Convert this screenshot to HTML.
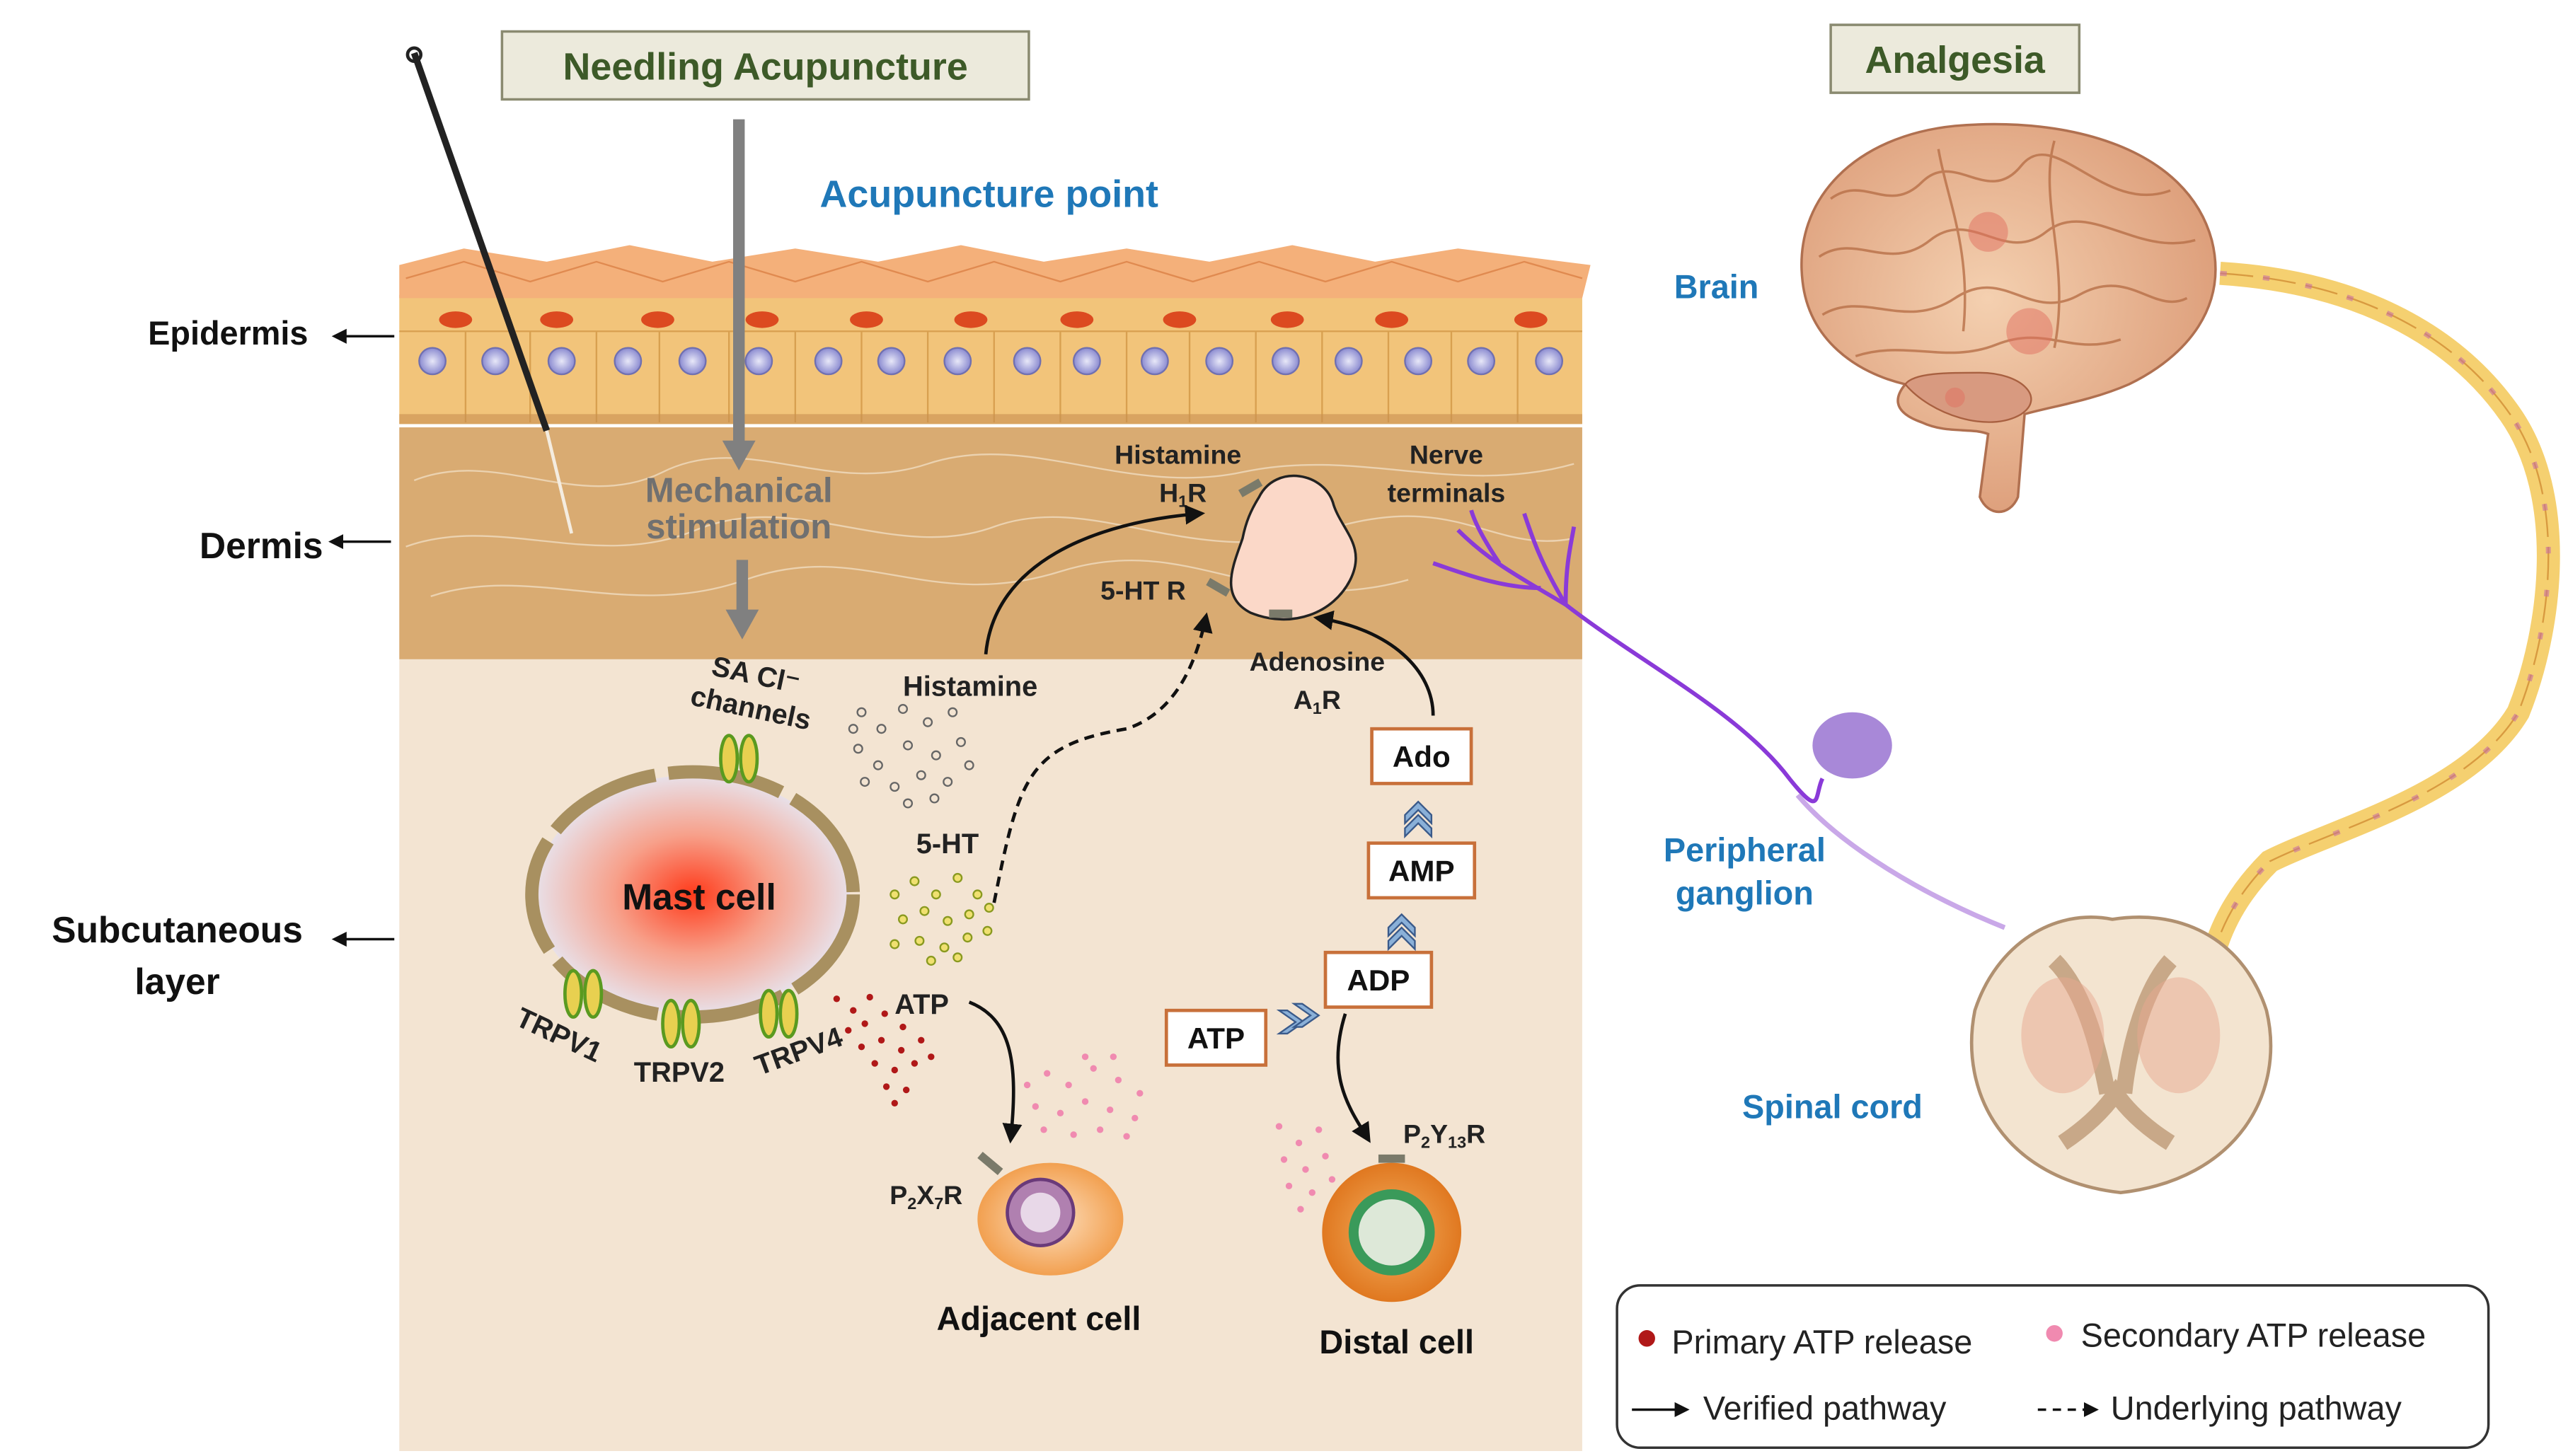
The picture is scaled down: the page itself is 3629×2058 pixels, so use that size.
<!DOCTYPE html>
<html><head><meta charset="utf-8"><style>
html,body{margin:0;padding:0;background:#fff}
svg{display:block}
text{font-family:"Liberation Sans",Arial,sans-serif;font-weight:bold}
</style></head><body>
<svg width="3629" height="2058" viewBox="0 0 1550 879" preserveAspectRatio="none" xmlns="http://www.w3.org/2000/svg">
<defs>
<radialGradient id="mast" cx="50%" cy="50%" r="50%"><stop offset="0" stop-color="#ff3a1a"/><stop offset="0.5" stop-color="#f7a08a"/><stop offset="1" stop-color="#e8e0e8"/></radialGradient>
<radialGradient id="nuc" cx="50%" cy="50%" r="50%"><stop offset="0" stop-color="#e8e8f8"/><stop offset="1" stop-color="#8a8ad0"/></radialGradient>
<radialGradient id="adj" cx="50%" cy="50%" r="50%"><stop offset="0" stop-color="#fde0c0"/><stop offset="1" stop-color="#f2a050"/></radialGradient>
<radialGradient id="dist" cx="50%" cy="50%" r="50%"><stop offset="0" stop-color="#f4b060"/><stop offset="1" stop-color="#e07820"/></radialGradient>
<radialGradient id="brain" cx="45%" cy="45%" r="60%"><stop offset="0" stop-color="#f4d0b0"/><stop offset="1" stop-color="#dc9c78"/></radialGradient>
<marker id="ah" viewBox="0 0 10 10" refX="8" refY="5" markerWidth="6" markerHeight="6" orient="auto"><path d="M0,0L10,5L0,10z" fill="#111"/></marker>
</defs>

<rect x="241" y="398" width="714" height="478" fill="#f3e4d2"/>
<rect x="241" y="258" width="714" height="140" fill="#d9ab72"/>
<g fill="none" stroke="#f0dcc0" stroke-width="1" opacity="0.8">
<path d="M250,290 C300,270 350,310 400,285 S500,300 560,280 S680,300 750,285 S880,300 950,280"/>
<path d="M245,330 C300,310 360,345 420,320 S540,340 600,318 S720,345 800,320 S900,335 950,325"/>
<path d="M260,360 C320,340 380,375 450,350 S560,370 640,345 S760,375 850,350"/>
</g>
<rect x="241" y="178" width="714" height="78" fill="#f2c47a"/>
<path d="M241,200 H955" stroke="#d8a050" stroke-width="1"/>
<path d="M241,160 L280,150 L330,158 L380,148 L430,158 L480,150 L530,158 L580,148 L630,158 L680,150 L730,158 L780,148 L830,158 L880,150 L960,160 L955,180 L241,180z" fill="#f4b07a"/>
<g fill="none" stroke="#e08a50" stroke-width="1">
<path d="M245,168 L280,158 L320,170 L360,158 L400,170 L440,158 L480,170 L520,158 L560,170 L600,158 L640,170 L680,158 L720,170 L760,158 L800,170 L840,158 L880,170 L920,158 L955,168"/>
</g>
<g fill="#dc4a20">
<ellipse cx="275" cy="193" rx="10" ry="5"/><ellipse cx="336" cy="193" rx="10" ry="5"/><ellipse cx="397" cy="193" rx="10" ry="5"/><ellipse cx="460" cy="193" rx="10" ry="5"/><ellipse cx="523" cy="193" rx="10" ry="5"/><ellipse cx="586" cy="193" rx="10" ry="5"/><ellipse cx="650" cy="193" rx="10" ry="5"/><ellipse cx="712" cy="193" rx="10" ry="5"/><ellipse cx="777" cy="193" rx="10" ry="5"/><ellipse cx="840" cy="193" rx="10" ry="5"/><ellipse cx="924" cy="193" rx="10" ry="5"/>
</g>
<path d="M281,200V255M320,200V255M360,200V255M398,200V255M440,200V255M480,200V255M520,200V255M560,200V255M600,200V255M640,200V255M680,200V255M718,200V255M758,200V255M798,200V255M838,200V255M876,200V255M916,200V255" stroke="#d8a050" stroke-width="1"/>
<g fill="url(#nuc)" stroke="#7070b0" stroke-width="1">
<circle cx="261" cy="218" r="8"/><circle cx="299" cy="218" r="8"/><circle cx="339" cy="218" r="8"/><circle cx="379" cy="218" r="8"/><circle cx="418" cy="218" r="8"/><circle cx="458" cy="218" r="8"/><circle cx="500" cy="218" r="8"/><circle cx="538" cy="218" r="8"/><circle cx="578" cy="218" r="8"/><circle cx="620" cy="218" r="8"/><circle cx="656" cy="218" r="8"/><circle cx="697" cy="218" r="8"/><circle cx="736" cy="218" r="8"/><circle cx="776" cy="218" r="8"/><circle cx="814" cy="218" r="8"/><circle cx="856" cy="218" r="8"/><circle cx="894" cy="218" r="8"/><circle cx="935" cy="218" r="8"/>
</g>
<rect x="241" y="250" width="714" height="6" fill="#c89050" opacity="0.6"/>

<line x1="250" y1="32" x2="330" y2="260" stroke="#222" stroke-width="4"/>
<line x1="330" y1="260" x2="345" y2="322" stroke="#f4ece0" stroke-width="2"/>
<circle cx="250" cy="33" r="4" fill="none" stroke="#222" stroke-width="2"/>

<rect x="303" y="19" width="318" height="41" fill="#eceadc" stroke="#8a8a70" stroke-width="1.5"/>
<text x="462" y="48" font-size="23" fill="#3d5a28" text-anchor="middle">Needling Acupuncture</text>
<rect x="1105" y="15" width="150" height="41" fill="#eceadc" stroke="#8a8a70" stroke-width="1.5"/>
<text x="1180" y="44" font-size="23" fill="#3d5a28" text-anchor="middle">Analgesia</text>
<text x="597" y="125" font-size="23" fill="#1f78b8" text-anchor="middle">Acupuncture point</text>

<line x1="446" y1="72" x2="446" y2="268" stroke="#808080" stroke-width="7"/>
<path d="M436,266 L456,266 L446,284z" fill="#808080"/>
<line x1="448" y1="338" x2="448" y2="370" stroke="#808080" stroke-width="7"/>
<path d="M438,368 L458,368 L448,386z" fill="#808080"/>
<text x="446" y="303" font-size="21" fill="#707070" text-anchor="middle">Mechanical</text>
<text x="446" y="325" font-size="21" fill="#707070" text-anchor="middle">stimulation</text>

<text x="186" y="208" font-size="20" fill="#111" text-anchor="end">Epidermis</text>
<line x1="238" y1="203" x2="202" y2="203" stroke="#111" stroke-width="1.5" marker-end="url(#ah)"/>
<text x="195" y="337" font-size="22" fill="#111" text-anchor="end">Dermis</text>
<line x1="236" y1="327" x2="200" y2="327" stroke="#111" stroke-width="1.5" marker-end="url(#ah)"/>
<text x="107" y="569" font-size="22" fill="#111" text-anchor="middle">Subcutaneous</text>
<text x="107" y="600" font-size="22" fill="#111" text-anchor="middle">layer</text>
<line x1="238" y1="567" x2="202" y2="567" stroke="#111" stroke-width="1.5" marker-end="url(#ah)"/>

<ellipse cx="418" cy="540" rx="95" ry="72" fill="url(#mast)"/>
<ellipse cx="418" cy="540" rx="97" ry="74" fill="none" stroke="#a89060" stroke-width="8" stroke-dasharray="70 8"/>
<text x="422" y="549" font-size="22" fill="#111" text-anchor="middle">Mast cell</text>
<g fill="#e8d050" stroke="#5a9a20" stroke-width="2">
<ellipse cx="440" cy="458" rx="5" ry="14"/><ellipse cx="452" cy="458" rx="5" ry="14"/>
<ellipse cx="346" cy="600" rx="5" ry="14"/><ellipse cx="358" cy="600" rx="5" ry="14"/>
<ellipse cx="405" cy="618" rx="5" ry="14"/><ellipse cx="417" cy="618" rx="5" ry="14"/>
<ellipse cx="464" cy="612" rx="5" ry="14"/><ellipse cx="476" cy="612" rx="5" ry="14"/>
</g>
<text x="455" y="413" font-size="17" fill="#222" text-anchor="middle" transform="rotate(12 455 413)">SA Cl⁻</text>
<text x="452" y="433" font-size="17" fill="#222" text-anchor="middle" transform="rotate(12 452 433)">channels</text>
<text x="335" y="630" font-size="17" fill="#222" text-anchor="middle" transform="rotate(25 335 630)">TRPV1</text>
<text x="410" y="653" font-size="17" fill="#222" text-anchor="middle">TRPV2</text>
<text x="484" y="640" font-size="17" fill="#222" text-anchor="middle" transform="rotate(-20 484 640)">TRPV4</text>

<g fill="none" stroke="#666" stroke-width="1">
<circle cx="520" cy="430" r="2.5"/><circle cx="532" cy="440" r="2.5"/><circle cx="545" cy="428" r="2.5"/><circle cx="560" cy="436" r="2.5"/><circle cx="575" cy="430" r="2.5"/><circle cx="518" cy="452" r="2.5"/><circle cx="530" cy="462" r="2.5"/><circle cx="548" cy="450" r="2.5"/><circle cx="565" cy="456" r="2.5"/><circle cx="580" cy="448" r="2.5"/><circle cx="522" cy="472" r="2.5"/><circle cx="540" cy="475" r="2.5"/><circle cx="556" cy="468" r="2.5"/><circle cx="572" cy="472" r="2.5"/><circle cx="585" cy="462" r="2.5"/><circle cx="548" cy="485" r="2.5"/><circle cx="564" cy="482" r="2.5"/><circle cx="515" cy="440" r="2.5"/>
</g>
<text x="545" y="420" font-size="17" fill="#222">Histamine</text>
<text x="553" y="515" font-size="17" fill="#222">5-HT</text>
<g fill="#f0e070" stroke="#8a9a20" stroke-width="1">
<circle cx="540" cy="540" r="2.5"/><circle cx="552" cy="532" r="2.5"/><circle cx="565" cy="540" r="2.5"/><circle cx="578" cy="530" r="2.5"/><circle cx="590" cy="540" r="2.5"/><circle cx="545" cy="555" r="2.5"/><circle cx="558" cy="550" r="2.5"/><circle cx="572" cy="556" r="2.5"/><circle cx="585" cy="552" r="2.5"/><circle cx="597" cy="548" r="2.5"/><circle cx="540" cy="570" r="2.5"/><circle cx="555" cy="568" r="2.5"/><circle cx="570" cy="572" r="2.5"/><circle cx="584" cy="566" r="2.5"/><circle cx="596" cy="562" r="2.5"/><circle cx="562" cy="580" r="2.5"/><circle cx="578" cy="578" r="2.5"/>
</g>
<g fill="#b01818">
<circle cx="505" cy="603" r="2"/><circle cx="515" cy="610" r="2"/><circle cx="525" cy="602" r="2"/><circle cx="512" cy="622" r="2"/><circle cx="522" cy="618" r="2"/><circle cx="534" cy="612" r="2"/><circle cx="545" cy="620" r="2"/><circle cx="520" cy="632" r="2"/><circle cx="532" cy="628" r="2"/><circle cx="544" cy="634" r="2"/><circle cx="556" cy="628" r="2"/><circle cx="528" cy="642" r="2"/><circle cx="540" cy="646" r="2"/><circle cx="552" cy="642" r="2"/><circle cx="562" cy="638" r="2"/><circle cx="535" cy="656" r="2"/><circle cx="547" cy="658" r="2"/><circle cx="540" cy="666" r="2"/>
</g>
<text x="540" y="612" font-size="17" fill="#222">ATP</text>
<g fill="#f08ab0">
<circle cx="620" cy="655" r="2"/><circle cx="632" cy="648" r="2"/><circle cx="645" cy="655" r="2"/><circle cx="660" cy="645" r="2"/><circle cx="675" cy="652" r="2"/><circle cx="688" cy="660" r="2"/><circle cx="625" cy="668" r="2"/><circle cx="640" cy="672" r="2"/><circle cx="655" cy="665" r="2"/><circle cx="670" cy="670" r="2"/><circle cx="685" cy="675" r="2"/><circle cx="630" cy="682" r="2"/><circle cx="648" cy="685" r="2"/><circle cx="664" cy="682" r="2"/><circle cx="680" cy="686" r="2"/><circle cx="655" cy="638" r="2"/><circle cx="672" cy="638" r="2"/>
<circle cx="772" cy="680" r="2"/><circle cx="784" cy="690" r="2"/><circle cx="796" cy="682" r="2"/><circle cx="775" cy="700" r="2"/><circle cx="788" cy="706" r="2"/><circle cx="800" cy="698" r="2"/><circle cx="778" cy="716" r="2"/><circle cx="792" cy="720" r="2"/><circle cx="804" cy="712" r="2"/><circle cx="785" cy="730" r="2"/>
</g>

<path d="M760,300 C770,280 800,285 805,305 C810,320 825,330 815,350 C805,370 780,380 755,370 C735,360 745,340 750,325 C752,315 755,308 760,300z" fill="#fbd8c8" stroke="#222" stroke-width="1.5"/>
<g fill="#7a7a6a"><rect x="748" y="292" width="14" height="5" transform="rotate(-30 755 295)"/><rect x="728" y="352" width="14" height="5" transform="rotate(30 735 355)"/><rect x="766" y="368" width="14" height="5"/></g>
<text x="711" y="280" font-size="16" fill="#222" text-anchor="middle">Histamine</text>
<text x="714" y="303" font-size="16" fill="#222" text-anchor="middle">H<tspan font-size="10" dy="3">1</tspan><tspan dy="-3">R</tspan></text>
<text x="690" y="362" font-size="16" fill="#222" text-anchor="middle">5-HT R</text>
<text x="873" y="280" font-size="16" fill="#222" text-anchor="middle">Nerve</text>
<text x="873" y="303" font-size="16" fill="#222" text-anchor="middle">terminals</text>
<text x="795" y="405" font-size="16" fill="#222" text-anchor="middle">Adenosine</text>
<text x="795" y="428" font-size="16" fill="#222" text-anchor="middle">A<tspan font-size="10" dy="3">1</tspan><tspan dy="-3">R</tspan></text>

<path d="M595,395 C600,340 660,315 725,310" fill="none" stroke="#111" stroke-width="2" marker-end="url(#ah)"/>
<path d="M600,545 C615,470 620,450 680,440 C710,430 722,400 728,372" fill="none" stroke="#111" stroke-width="2" stroke-dasharray="6 4" marker-end="url(#ah)"/>
<path d="M865,432 C865,405 840,380 795,373" fill="none" stroke="#111" stroke-width="2" marker-end="url(#ah)"/>
<path d="M585,605 C610,615 615,640 610,688" fill="none" stroke="#111" stroke-width="2" marker-end="url(#ah)"/>
<path d="M812,612 C800,650 815,670 826,688" fill="none" stroke="#111" stroke-width="2" marker-end="url(#ah)"/>

<g fill="#fff" stroke="#c8703a" stroke-width="2">
<rect x="828" y="440" width="60" height="33"/><rect x="826" y="509" width="64" height="33"/><rect x="800" y="575" width="64" height="33"/><rect x="704" y="610" width="60" height="33"/>
</g>
<g font-size="18" fill="#111" text-anchor="middle">
<text x="858" y="463">Ado</text><text x="858" y="532">AMP</text><text x="832" y="598">ADP</text><text x="734" y="633">ATP</text>
</g>
<g fill="#8ab0d8" stroke="#3a5a8a" stroke-width="1">
<path d="M848,492 L856,484 L864,492 L864,497 L856,489 L848,497z"/><path d="M848,500 L856,492 L864,500 L864,505 L856,497 L848,505z"/>
<path d="M838,560 L846,552 L854,560 L854,565 L846,557 L838,565z"/><path d="M838,568 L846,560 L854,568 L854,573 L846,565 L838,573z"/>
<path d="M772,610 L782,617 L772,624 L777,624 L787,617 L777,610z"/><path d="M781,606 L791,613 L781,620 L786,620 L796,613 L786,606z"/>
</g>

<ellipse cx="634" cy="736" rx="44" ry="34" fill="url(#adj)"/>
<circle cx="628" cy="732" r="20" fill="#b080b0" stroke="#6a3a7a" stroke-width="2"/>
<circle cx="628" cy="732" r="12" fill="#e8d8e8"/>
<rect x="590" y="700" width="16" height="5" fill="#7a7a6a" transform="rotate(40 598 702)"/>
<text x="537" y="727" font-size="16" fill="#222">P<tspan font-size="10" dy="3">2</tspan><tspan dy="-3">X</tspan><tspan font-size="10" dy="3">7</tspan><tspan dy="-3">R</tspan></text>
<text x="627" y="803" font-size="20" fill="#111" text-anchor="middle">Adjacent cell</text>
<circle cx="840" cy="744" r="42" fill="url(#dist)"/>
<circle cx="840" cy="744" r="26" fill="#3a9a5a"/>
<circle cx="840" cy="744" r="20" fill="#dde8d8"/>
<rect x="832" y="697" width="16" height="5" fill="#7a7a6a"/>
<text x="847" y="690" font-size="16" fill="#222">P<tspan font-size="10" dy="3">2</tspan><tspan dy="-3">Y</tspan><tspan font-size="10" dy="3">13</tspan><tspan dy="-3">R</tspan></text>
<text x="843" y="817" font-size="20" fill="#111" text-anchor="middle">Distal cell</text>

<g stroke="#8a3ad8" stroke-width="2.5" fill="none">
<path d="M945,365 C920,350 900,340 880,320"/><path d="M945,365 C930,340 925,325 920,310"/><path d="M945,365 C945,340 948,330 950,318"/><path d="M930,355 C905,355 880,345 865,340"/><path d="M905,340 C895,325 890,315 888,308"/>
<path d="M945,365 C990,400 1050,430 1080,470 C1100,495 1095,480 1100,470"/>
<path d="M1085,480 C1110,510 1160,540 1210,560" stroke="#c9a8e8" stroke-width="3"/>
</g>
<ellipse cx="1118" cy="450" rx="24" ry="20" fill="#a888d8"/>
<text x="1053" y="520" font-size="20" fill="#1f78b8" text-anchor="middle">Peripheral</text>
<text x="1053" y="546" font-size="20" fill="#1f78b8" text-anchor="middle">ganglion</text>

<!-- brain -->
<path d="M1195,300 L1200,262 C1190,258 1175,262 1160,255 C1140,248 1145,238 1150,232 C1120,225 1092,205 1088,170 C1082,120 1120,82 1180,76 C1250,70 1320,90 1335,145 C1345,185 1320,215 1285,232 C1262,242 1240,245 1222,250 L1218,300 C1213,312 1200,312 1195,300z" fill="url(#brain)" stroke="#b07050" stroke-width="1.5"/>
<path d="M1150,232 C1165,250 1200,262 1220,250 C1235,240 1220,225 1195,225 C1175,225 1155,225 1150,232z" fill="#d89a80" stroke="#a86040" stroke-width="1"/>
<g fill="none" stroke="#b87048" stroke-width="1.5" opacity="0.8">
<path d="M1105,120 C1125,105 1140,130 1160,110 S1200,125 1220,100 S1270,130 1310,115"/>
<path d="M1098,155 C1120,140 1140,165 1165,145 S1210,160 1235,140 S1290,155 1325,145"/>
<path d="M1100,190 C1125,175 1150,200 1180,180 S1225,195 1255,178 S1300,190 1320,180"/>
<path d="M1120,215 C1150,205 1175,220 1205,208 S1250,215 1280,205"/>
<path d="M1170,90 C1175,120 1190,150 1185,200 M1240,85 C1230,120 1250,160 1240,210"/>
</g>
<g fill="#e07060" opacity="0.5"><circle cx="1200" cy="140" r="12"/><circle cx="1225" cy="200" r="14"/><circle cx="1180" cy="240" r="6"/></g>
<text x="1036" y="180" font-size="20" fill="#1f78b8" text-anchor="middle">Brain</text>

<path d="M1340,165 C1420,170 1480,200 1515,250 C1550,300 1540,380 1520,430 C1490,480 1410,500 1370,520 C1350,540 1340,560 1335,580" fill="none" stroke="#f5d070" stroke-width="14"/>
<path d="M1340,165 C1420,170 1480,200 1515,250 C1550,300 1540,380 1520,430 C1490,480 1410,500 1370,520 C1350,540 1340,560 1335,580" fill="none" stroke="#d89a40" stroke-width="1" stroke-dasharray="20 6"/>
<path d="M1340,165 C1420,170 1480,200 1515,250 C1550,300 1540,380 1520,430 C1490,480 1410,500 1370,520 C1350,540 1340,560 1335,580" fill="none" stroke="#c870a0" stroke-width="3" stroke-dasharray="4 22" opacity="0.6"/>

<path d="M1275,555 C1320,548 1355,570 1368,610 C1380,660 1350,712 1280,720 C1210,712 1182,660 1192,610 C1205,570 1240,548 1275,555z" fill="#f3e4d0" stroke="#b09070" stroke-width="2"/>
<path d="M1240,580 C1260,600 1268,640 1272,660 M1310,580 C1292,600 1284,640 1282,660 M1245,690 C1260,680 1270,670 1277,660 C1284,670 1294,680 1310,690" fill="none" stroke="#c8a888" stroke-width="10"/>
<ellipse cx="1245" cy="625" rx="25" ry="35" fill="#e8a890" opacity="0.5"/><ellipse cx="1315" cy="625" rx="25" ry="35" fill="#e8a890" opacity="0.5"/>
<text x="1106" y="675" font-size="20" fill="#1f78b8" text-anchor="middle">Spinal cord</text>

<rect x="976" y="776" width="526" height="98" rx="14" fill="#fff" stroke="#333" stroke-width="1.5"/>
<circle cx="994" cy="808" r="5" fill="#b01818"/>
<text x="1009" y="817" font-size="20" fill="#222" style="font-weight:normal">Primary ATP release</text>
<circle cx="1240" cy="805" r="5" fill="#f08ab0"/>
<text x="1256" y="813" font-size="20" fill="#222" style="font-weight:normal">Secondary ATP release</text>
<line x1="985" y1="851" x2="1018" y2="851" stroke="#111" stroke-width="1.5" marker-end="url(#ah)"/>
<text x="1028" y="857" font-size="20" fill="#222" style="font-weight:normal">Verified pathway</text>
<line x1="1230" y1="851" x2="1265" y2="851" stroke="#111" stroke-width="1.5" stroke-dasharray="5 4" marker-end="url(#ah)"/>
<text x="1274" y="857" font-size="20" fill="#222" style="font-weight:normal">Underlying pathway</text>
</svg>
</body></html>
